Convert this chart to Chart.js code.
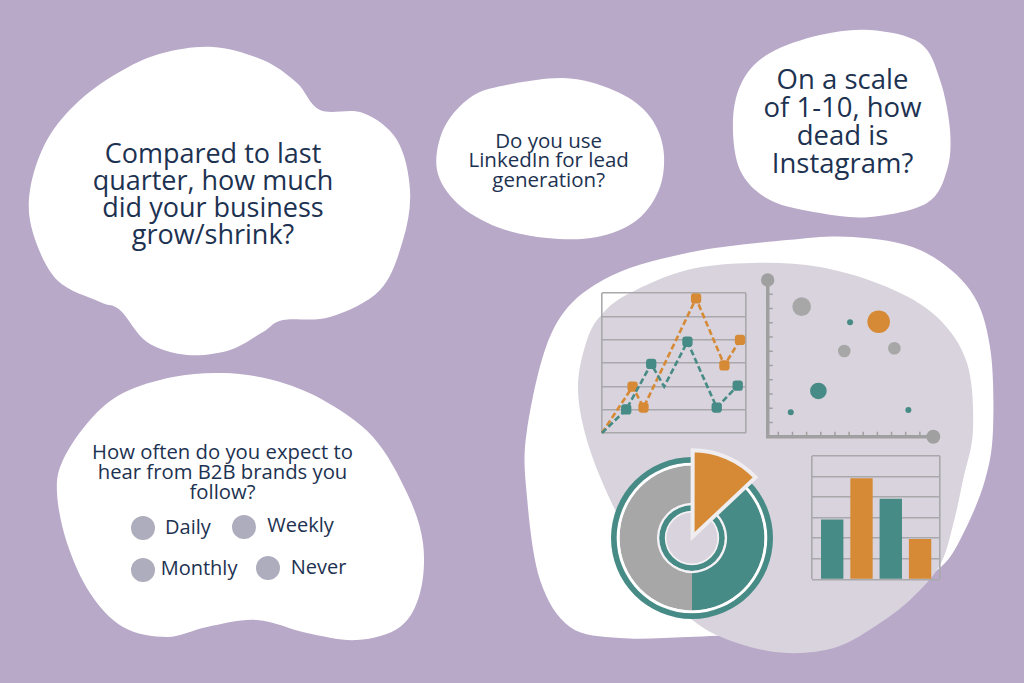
<!DOCTYPE html>
<html>
<head>
<meta charset="utf-8">
<script src="https://cdn.jsdelivr.net/npm/chart.js@4.4.1/dist/chart.umd.min.js"></script>
<style>
  html, body { margin: 0; padding: 0; }
  body { width: 1024px; height: 683px; background: #b8a9c9; position: relative; overflow: hidden;
         font-family: "Open Sans", sans-serif; color: #1d3251; }
  #blobs { position: absolute; left: 0; top: 0; }
  canvas { position: absolute; }
  .q { position: absolute; text-align: center; white-space: nowrap; }
  .dot { position: absolute; width: 24px; height: 24px; border-radius: 50%; background: #aeadbe; }
  .opt { position: absolute; font-size: 20px; line-height: 24px; white-space: nowrap; }
</style>
</head>
<body>
<svg id="blobs" width="1024" height="683"></svg>

<div class="q" style="left:13px;width:400px;top:138.5px;font-size:27px;line-height:27.3px">Compared to last<br>quarter, how much<br>did your business<br>grow/shrink?</div>
<div class="q" style="left:448.7px;width:200px;top:131px;font-size:20.5px;line-height:19.3px">Do you use<br>LinkedIn for lead<br>generation?</div>
<div class="q" style="left:742.5px;width:200px;top:65.2px;font-size:27.5px;line-height:28px">On a scale<br>of 1-10, how<br>dead is<br>Instagram?</div>
<div class="q" style="left:72.5px;width:300px;top:442.4px;font-size:20.3px;line-height:19.9px">How often do you expect to<br>hear from B2B brands you<br>follow?</div>

<div class="dot" style="left:130.7px;top:516.3px"></div>
<div class="opt" style="left:165px;top:514.9px">Daily</div>
<div class="dot" style="left:232px;top:514.7px"></div>
<div class="opt" style="left:267.3px;top:513.2px">Weekly</div>
<div class="dot" style="left:130.7px;top:558px"></div>
<div class="opt" style="left:160.7px;top:556.2px">Monthly</div>
<div class="dot" style="left:255.7px;top:556.3px"></div>
<div class="opt" style="left:290.7px;top:554.6px">Never</div>

<canvas id="lineChart" width="154" height="150" style="left:597px;top:288px"></canvas>
<canvas id="bubbleChart" width="192" height="182" style="left:755px;top:268px"></canvas>
<canvas id="ringChart" width="200" height="200" style="left:592px;top:438px"></canvas>
<canvas id="wedgeChart" width="200" height="200" style="left:592px;top:438px"></canvas>
<canvas id="barChart" width="142" height="136" style="left:805px;top:450px"></canvas>

<script>
const TEAL = "#468b85";
const ORANGE = "#d68a36";
const GRAY = "#a7a7a7";
const GRID = "#a9a8ab";
const AXIS = "#a0a0a0";

// line chart (two dashed series)
const tealLineX = [0, 2.02, 4.1, 5.18, 7.12, 9.56, 11.31];
const tealLineY = [0, 1.01, 2.96, 1.99, 3.91, 1.09, 2.03];
const orangeLineX = [0, 2.55, 3.46, 7.84, 10.2, 11.5];
const orangeLineY = [0, 1.99, 1.09, 5.77, 2.9, 3.99];

// bubble chart: [x, y, r]
const grayBubbles = [[2.4, 9.13, 9.3], [5.41, 6.02, 6.3], [8.95, 6.21, 6.3]];
const tealBubbles = [[5.82, 8.03, 3], [3.58, 3.21, 8.3], [1.63, 1.71, 3], [9.94, 1.87, 3]];
const orangeBubbles = [[7.84, 8.07, 11.3]];
const axisEnds = [[0, 11, 6.7], [11.7, 0, 7]];
const bubbleXTicks = [0.75, 1.75, 2.75, 3.75, 4.75, 5.75, 6.75, 7.75, 8.75, 9.75, 10.75];
const bubbleYTicks = [1, 2, 3, 4, 5, 6, 7, 8, 9, 10];

// doughnut shares (percent)
const donutLabels = ["Orange", "Teal", "Gray"];
const donutShares = [13, 37, 50];

// bar chart
const barX = [1, 2, 3, 4];
const barValues = [2.9, 4.9, 3.9, 1.95];

// ---- background blobs ----
function blobPath(pts) {
  const n = pts.length;
  let d = "M" + pts[0][0] + "," + pts[0][1];
  for (let i = 0; i < n; i++) {
    const p0 = pts[(i - 1 + n) % n], p1 = pts[i], p2 = pts[(i + 1) % n], p3 = pts[(i + 2) % n];
    const c1 = [p1[0] + (p2[0] - p0[0]) / 6, p1[1] + (p2[1] - p0[1]) / 6];
    const c2 = [p2[0] - (p3[0] - p1[0]) / 6, p2[1] - (p3[1] - p1[1]) / 6];
    d += " C" + c1.join(",") + " " + c2.join(",") + " " + p2.join(",");
  }
  return d + "Z";
}

const blobs = [
  { fill: "#ffffff", pts: [[163,53],[213,47],[263,60],[297,83],[320,110],[363,113],[397,140],[410,190],[403,240],[380,290],[330,317],[283,320],[263,332],[230,350],[187,355],[147,342],[120,310],[100,302],[57,280],[33,233],[30,190],[47,140],[80,100],[123,70]] },
  { fill: "#ffffff", pts: [[497,87],[563,78],[613,90],[647,113],[663,147],[660,187],[637,220],[597,237],[547,238],[497,227],[457,203],[437,170],[443,130],[467,100]] },
  { fill: "#ffffff", pts: [[770,53],[820,35],[870,30],[920,43],[940,80],[950,130],[947,170],[927,203],[870,217],[820,213],[770,200],[740,170],[733,120],[743,80]] },
  { fill: "#ffffff", pts: [[123,393],[173,377],[223,373],[273,380],[323,400],[373,437],[407,493],[423,543],[420,593],[400,627],[357,640],[307,633],[257,620],[207,627],[167,637],[123,627],[90,593],[67,543],[57,493],[63,460],[90,420]] },
  { fill: "#ffffff", pts: [[603,280],[687,253],[787,240],[853,237],[920,250],[970,290],[990,347],[993,430],[985,480],[965,530],[942,566],[900,590],[840,612],[750,632],[687,637],[620,638],[570,627],[540,580],[527,497],[527,430],[553,330]] },
  { fill: "#d8d3dc", pts: [[630,293],[687,270],[753,263],[820,267],[887,287],[937,317],[967,363],[973,430],[963,480],[953,525],[940,565],[912,598],[880,623],[837,647],[787,653],[737,643],[695,622],[655,580],[620,520],[590,450],[578,390],[587,340],[603,313]] }
];
const svg = document.getElementById("blobs");
blobs.forEach(b => {
  const p = document.createElementNS("http://www.w3.org/2000/svg", "path");
  p.setAttribute("d", blobPath(b.pts));
  p.setAttribute("fill", b.fill);
  svg.appendChild(p);
});

Chart.defaults.animation = false;
Chart.defaults.responsive = false;
Chart.defaults.plugins.legend.display = false;
Chart.defaults.plugins.tooltip.enabled = false;
Chart.defaults.layout.autoPadding = false;

// only draw the left and right frame lines on x
function frameOnly(scale) {
  scale.ticks = [{ value: scale.min }, { value: scale.max }];
}

// ---- line chart ----
new Chart(document.getElementById("lineChart"), {
  type: "line",
  data: {
    datasets: [
      {
        data: tealLineX.map((x, i) => ({ x: x, y: tealLineY[i] })),
        borderColor: TEAL, backgroundColor: TEAL, borderWidth: 2.6, borderDash: [6, 3],
        pointRadius: [0, 6, 6, 0, 6, 6, 6], pointStyle: "rectRounded", pointBorderWidth: 0,
        tension: 0, clip: false
      },
      {
        data: orangeLineX.map((x, i) => ({ x: x, y: orangeLineY[i] })),
        borderColor: ORANGE, backgroundColor: ORANGE, borderWidth: 2.6, borderDash: [6, 3],
        pointRadius: [0, 6, 6, 6, 6, 6], pointStyle: "rectRounded", pointBorderWidth: 0,
        tension: 0, clip: false
      }
    ]
  },
  options: {
    layout: { padding: 5 },
    scales: {
      x: { type: "linear", min: 0, max: 12, ticks: { display: false },
           grid: { color: GRID, lineWidth: 1.6, drawTicks: false }, border: { display: false },
           afterBuildTicks: frameOnly },
      y: { min: 0, max: 6, ticks: { display: false, stepSize: 1 },
           grid: { color: GRID, lineWidth: 1.6, drawTicks: false }, border: { display: false } }
    }
  }
});

// ---- bubble chart ----
const innerTicks = {
  id: "innerTicks",
  beforeDatasetsDraw(chart) {
    const ctx = chart.ctx, xs = chart.scales.x, ys = chart.scales.y;
    const x0 = xs.getPixelForValue(0), y0 = ys.getPixelForValue(0);
    ctx.save();
    ctx.strokeStyle = AXIS;
    ctx.lineWidth = 1.5;
    ctx.beginPath();
    bubbleYTicks.forEach(v => { const py = ys.getPixelForValue(v); ctx.moveTo(x0, py); ctx.lineTo(x0 + 5, py); });
    bubbleXTicks.forEach(v => { const px = xs.getPixelForValue(v); ctx.moveTo(px, y0); ctx.lineTo(px, y0 - 5); });
    ctx.stroke();
    ctx.restore();
  }
};
const toBubble = arr => arr.map(b => ({ x: b[0], y: b[1], r: b[2] }));
new Chart(document.getElementById("bubbleChart"), {
  type: "bubble",
  data: {
    datasets: [
      { data: toBubble(axisEnds), backgroundColor: AXIS, borderWidth: 0, clip: false },
      { data: toBubble(grayBubbles), backgroundColor: GRAY, borderWidth: 0, clip: false },
      { data: toBubble(tealBubbles), backgroundColor: TEAL, borderWidth: 0, clip: false },
      { data: toBubble(orangeBubbles), backgroundColor: ORANGE, borderWidth: 0, clip: false }
    ]
  },
  options: {
    layout: { padding: { left: 12.7, top: 12, right: 13.7, bottom: 13.3 } },
    scales: {
      x: { type: "linear", min: 0, max: 11.7, ticks: { display: false },
           grid: { display: false, drawTicks: false }, border: { color: AXIS, width: 3.5 } },
      y: { min: 0, max: 11, ticks: { display: false },
           grid: { display: false, drawTicks: false }, border: { color: AXIS, width: 3.5 } }
    }
  },
  plugins: [innerTicks]
});

// ---- doughnut rings ----
const CLEAR = "rgba(0,0,0,0)";
new Chart(document.getElementById("ringChart"), {
  type: "doughnut",
  data: {
    labels: donutLabels,
    datasets: [
      { data: [1], backgroundColor: [TEAL], weight: 5 },
      { data: [1], backgroundColor: ["#ffffff"], weight: 2.5 },
      { data: donutShares, backgroundColor: [CLEAR, TEAL, GRAY], weight: 33 },
      { data: [1], backgroundColor: ["#f4f2f5"], weight: 2 },
      { data: [1], backgroundColor: [TEAL], weight: 5 },
      { data: [1], backgroundColor: ["#f4f2f5"], weight: 1.5 }
    ]
  },
  options: {
    radius: 81,
    cutout: 31.5,
    elements: { arc: { borderWidth: 0 } }
  }
});

// ---- exploded orange wedge ----
new Chart(document.getElementById("wedgeChart"), {
  type: "pie",
  data: {
    labels: ["Orange", "Rest"],
    datasets: [{
      data: [donutShares[0], 100 - donutShares[0]],
      backgroundColor: [ORANGE, CLEAR],
      borderColor: ["#efedf0", CLEAR],
      borderWidth: [4, 0],
      borderJoinStyle: "miter",
      offset: [6, 0]
    }]
  },
  options: { radius: 86 }
});

// ---- bar chart ----
new Chart(document.getElementById("barChart"), {
  type: "bar",
  data: {
    datasets: [{
      data: barX.map((x, i) => ({ x: x, y: barValues[i] })),
      backgroundColor: [TEAL, ORANGE, TEAL, ORANGE],
      barThickness: 21.7, borderWidth: 0
    }]
  },
  options: {
    layout: { padding: { left: 6.7, top: 6, right: 7, bottom: 6.7 } },
    scales: {
      x: { type: "linear", min: 0.3, max: 4.68, offset: false, ticks: { display: false },
           grid: { color: GRID, lineWidth: 1.6, drawTicks: false, offset: false }, border: { display: false },
           afterBuildTicks: frameOnly },
      y: { min: 0, max: 6, ticks: { display: false, stepSize: 1 },
           grid: { color: GRID, lineWidth: 1.6, drawTicks: false }, border: { display: false } }
    }
  }
});
</script>
</body>
</html>
